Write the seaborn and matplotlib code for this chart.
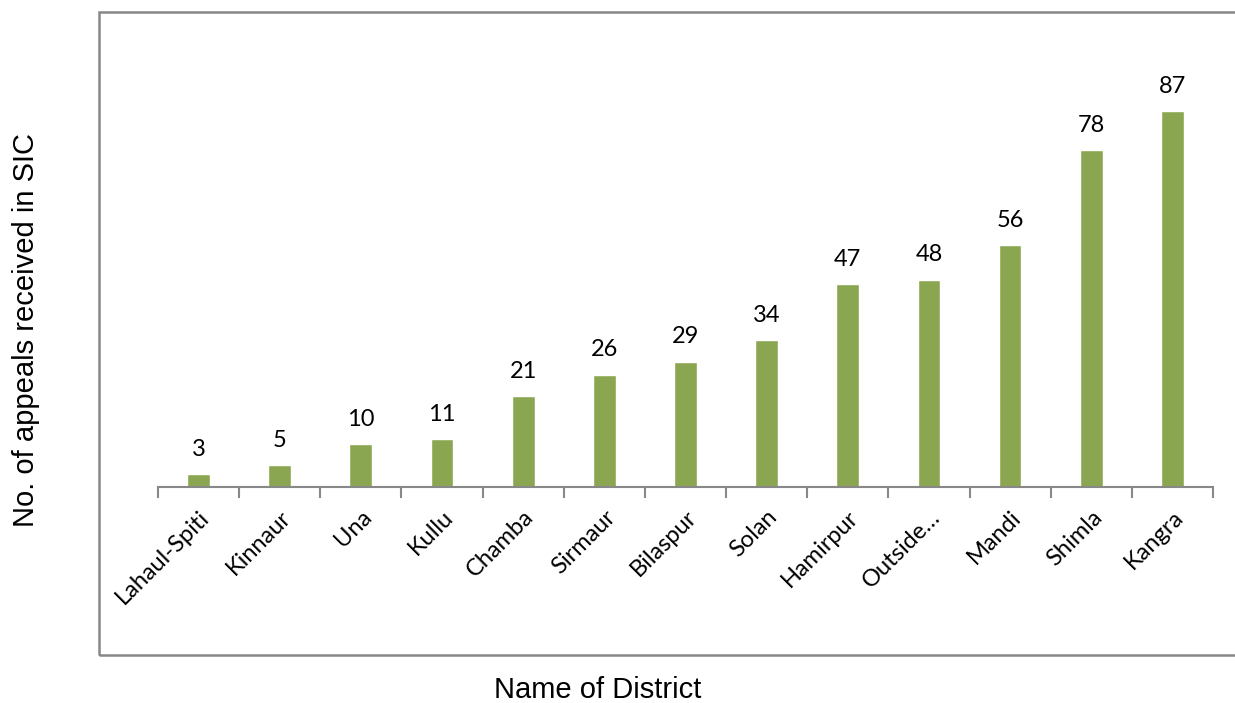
import matplotlib
matplotlib.use("Agg")
import matplotlib.pyplot as plt
import seaborn as sns
import pandas as pd
from matplotlib.patches import Rectangle

# Chart data
districts = ["Lahaul-Spiti", "Kinnaur", "Una", "Kullu", "Chamba", "Sirmaur",
             "Bilaspur", "Solan", "Hamirpur", "Outside\u2026", "Mandi", "Shimla", "Kangra"]
appeals = [3, 5, 10, 11, 21, 26, 29, 34, 47, 48, 56, 78, 87]

df = pd.DataFrame({"district": districts, "appeals": appeals})

sns.set_style("white")
plt.rcParams["font.family"] = ["Lato", "DejaVu Sans"]

fig = plt.figure(figsize=(12.35, 7.03), dpi=100)
ax = fig.add_axes([0.1279, 0.3073, 0.8543, 0.6145])

sns.barplot(data=df, x="district", y="appeals", color="#8BA650",
            width=0.28, saturation=1, ax=ax)

ax.set_ylim(0, 100)
ax.set_xlim(-0.5, len(districts) - 0.5)

# data labels
for i, v in enumerate(appeals):
    ax.text(i, v + 3.3, str(v), ha="center", va="bottom", fontsize=17, color="#000000")

# axis styling
for s in ["top", "right", "left"]:
    ax.spines[s].set_visible(False)
ax.spines["bottom"].set_color("#888888")
ax.spines["bottom"].set_linewidth(1.5)
ax.set_yticks([])

ax.set_xticks(range(len(districts)))
ax.set_xticklabels(districts, rotation=45, ha="right", rotation_mode="anchor",
                   fontsize=17, color="#000000")
ax.set_xticks([i + 0.5 for i in range(-1, len(districts))], minor=True)
ax.tick_params(axis="x", which="minor", bottom=True, length=8, width=1.5,
               color="#888888", direction="out")
ax.tick_params(axis="x", which="major", bottom=True, length=0, pad=14)
ax.set_xlabel("")
ax.set_ylabel("")

# outer chart border
fig.patches.append(Rectangle((0.0802, 0.0683), 0.95, 0.9147, transform=fig.transFigure,
                             fill=False, edgecolor="#888888", linewidth=1.8, zorder=0))

fig.text(0.021, 0.53, "No. of appeals received in SIC", rotation=90, ha="center", va="center",
         fontsize=21, color="#000000", family=["Liberation Sans", "DejaVu Sans"])
fig.text(0.484, 0.018, "Name of District", ha="center", va="center",
         fontsize=21, color="#000000", family=["Liberation Sans", "DejaVu Sans"])

fig.savefig("out.png", dpi=100)
